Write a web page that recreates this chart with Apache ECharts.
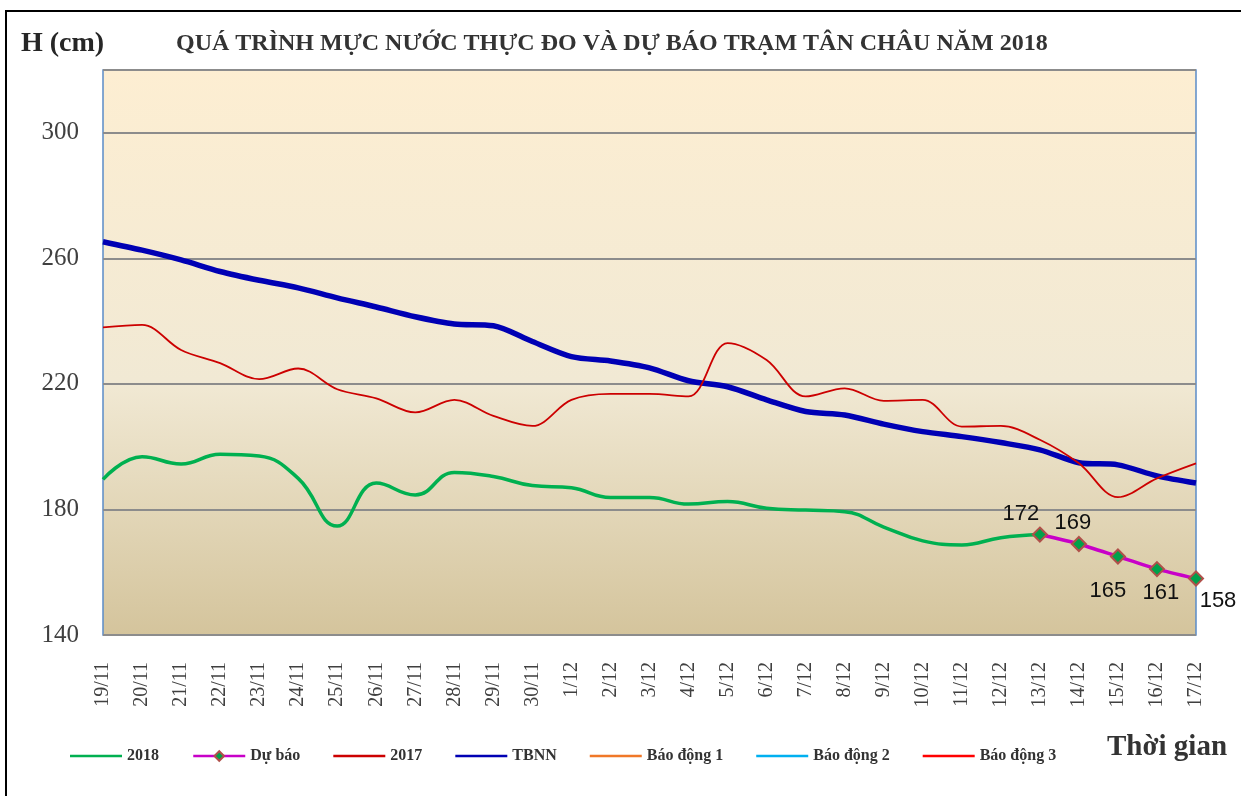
<html>
<head>
<meta charset="utf8">
<script src="https://cdn.jsdelivr.net/npm/echarts@6/dist/echarts.min.js" type="text/javascript"></script>
<style>
  body { margin: 0; background: #fff; }
  #echarts-main { width: 1241px; height: 796px; }
</style>
</head>
<body>
<div id="echarts-main"></div>
<script type="text/javascript">
	// ngay
	var dates = ['19/11','20/11','21/11','22/11','23/11','24/11','25/11','26/11','27/11','28/11','29/11','30/11',
		'1/12','2/12','3/12','4/12','5/12','6/12','7/12','8/12','9/12','10/12','11/12','12/12','13/12','14/12','15/12','16/12','17/12'];
	// muc nuoc (cm)
	var h2018 = [189.6,196.8,194.5,197.6,197,189.9,174.7,188.4,184.6,191.8,190.5,187.6,186.9,183.8,183.8,181.7,182.5,180.4,179.8,179.3,174.4,170,168.7,171,172,null,null,null,null];
	var duBao = [null,null,null,null,null,null,null,null,null,null,null,null,null,null,null,null,null,null,null,null,null,null,null,null,172,169,165,161,158];
	var h2017 = [238,238.8,230.8,226.6,221.5,224.9,218.3,215.4,210.9,214.9,209.8,206.6,214.9,216.8,216.8,216,233,227.6,216,218.6,214.6,214.9,206.4,206.6,202.2,194.7,183.9,189.9,194.7];
	var tbnn = [265.3,262.6,259.5,255.8,253,250.6,247.4,244.5,241.4,239.1,238.5,233.5,228.7,227.3,225.1,221,219.1,214.9,211.2,210.1,207.2,204.8,203.2,201.3,199,194.9,194.2,190.7,188.4];
	var baoDong1 = [];
	var baoDong2 = [];
	var baoDong3 = [];

	var serif = '"Liberation Serif", "DejaVu Serif", serif';
	// vi tri nhan du bao (offset so voi diem)
	var labelOffsets = [[-19,-21],[-6,-21],[-10,34],[4,24],[22,22]];
	var lineIcon = 'path://M0,0L52,0L52,2.5L0,2.5Z';

	function drawChart() {
		var myChart = echarts.init(document.getElementById('echarts-main'));
		var k = 0;
		var duBaoData = duBao.map(function (v) {
			if (v === null) return null;
			var item = { value: v, label: { offset: labelOffsets[k] } };
			k++;
			return item;
		});

		var option = {
			animation: false,
			backgroundColor: '#fff',
			grid: {
				left: 103, right: 45, top: 70, bottom: 161,
				show: true,
				borderColor: '#5b8cc8',
				borderWidth: 1.5,
				backgroundColor: new echarts.graphic.LinearGradient(0, 0, 0, 1, [
					{ offset: 0, color: '#fdeed2' },
					{ offset: 0.55, color: '#f1e9d4' },
					{ offset: 1, color: '#d4c49c' }
				])
			},
			xAxis: {
				type: 'category',
				data: dates,
				boundaryGap: false,
				axisLine: { show: false },
				axisTick: { show: false },
				axisLabel: {
					rotate: 90, margin: 27, interval: 0,
					fontFamily: serif, fontSize: 20, color: '#404040'
				}
			},
			yAxis: {
				type: 'value',
				min: 140, max: 320, interval: 40,
				axisLine: { show: false },
				axisTick: { show: false },
				axisLabel: {
					margin: 24, fontFamily: serif, fontSize: 25, color: '#404040',
					showMaxLabel: false
				},
				splitLine: { lineStyle: { color: '#8c8c8c', width: 2 } }
			},
			legend: {
				left: 65, top: 743,
				itemWidth: 52, itemHeight: 12, itemGap: 33,
				lineStyle: { width: 2.5 },
				textStyle: { fontFamily: serif, fontSize: 16, fontWeight: 'bold', color: '#333' },
				data: [
					{ name: '2018', icon: lineIcon },
					{ name: 'Dự báo' },
					{ name: '2017', icon: lineIcon },
					{ name: 'TBNN', icon: lineIcon },
					{ name: 'Báo động 1', icon: lineIcon },
					{ name: 'Báo động 2', icon: lineIcon },
					{ name: 'Báo động 3', icon: lineIcon }
				]
			},
			graphic: [
				{ type: 'rect', shape: { x: 6, y: 11, width: 1240, height: 790 },
				  style: { fill: 'none', stroke: '#000', lineWidth: 2 }, z: 100 },
				{ type: 'text', left: 21, top: 30,
				  style: { text: 'H (cm)', font: 'bold 28px ' + serif, fill: '#262626' } },
				{ type: 'text', left: 176, top: 32,
				  style: { text: 'QUÁ TRÌNH MỰC NƯỚC THỰC ĐO VÀ DỰ BÁO TRẠM TÂN CHÂU NĂM 2018',
				           font: 'bold 24px ' + serif, fill: '#333' } },
				{ type: 'text', left: 1107, top: 733,
				  style: { text: 'Thời gian', font: 'bold 29px ' + serif, fill: '#333' } }
			],
			series: [
				{ name: '2018', type: 'line', data: h2018, smooth: 0.45, symbol: 'none',
				  lineStyle: { color: '#00b050', width: 3.5 }, itemStyle: { color: '#00b050' }, z: 4 },
				{ name: 'Dự báo', type: 'line', data: duBaoData, smooth: 0.2,
				  symbol: 'diamond', symbolSize: 14, showAllSymbol: true,
				  lineStyle: { color: '#c800c8', width: 3.5 },
				  itemStyle: { color: '#00a14b', borderColor: '#b0504a', borderWidth: 2 },
				  label: { show: true, position: 'inside', fontFamily: '"Liberation Sans", Arial, sans-serif',
				           fontSize: 22, color: '#111' },
				  z: 6 },
				{ name: '2017', type: 'line', data: h2017, smooth: 0.35, symbol: 'none',
				  lineStyle: { color: '#cc0000', width: 1.8 }, itemStyle: { color: '#cc0000' }, z: 3 },
				{ name: 'TBNN', type: 'line', data: tbnn, smooth: 0.3, symbol: 'none',
				  lineStyle: { color: '#0000b4', width: 5.5 }, itemStyle: { color: '#0000b4' }, z: 2 },
				{ name: 'Báo động 1', type: 'line', data: baoDong1, symbol: 'none',
				  lineStyle: { color: '#f07828', width: 2 }, itemStyle: { color: '#f07828' } },
				{ name: 'Báo động 2', type: 'line', data: baoDong2, symbol: 'none',
				  lineStyle: { color: '#00b0f0', width: 2 }, itemStyle: { color: '#00b0f0' } },
				{ name: 'Báo động 3', type: 'line', data: baoDong3, symbol: 'none',
				  lineStyle: { color: '#ff0000', width: 2 }, itemStyle: { color: '#ff0000' } }
			]
		};
		myChart.setOption(option);
	}

	drawChart();
</script>
</body>
</html>
